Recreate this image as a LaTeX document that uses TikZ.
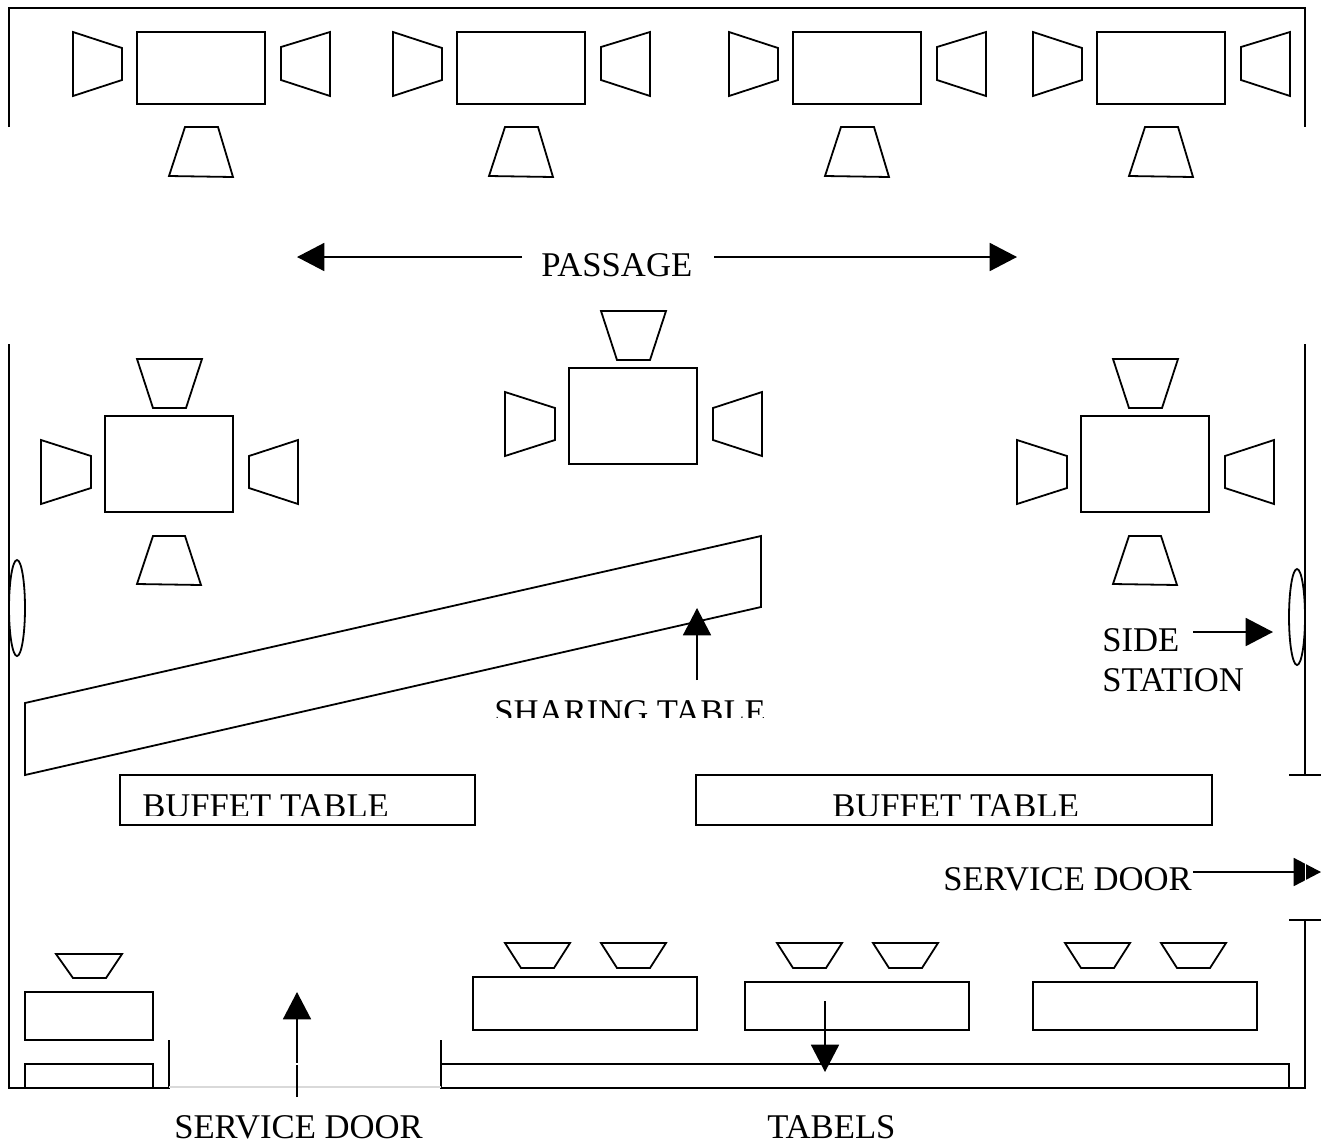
\documentclass[tikz,border=0pt]{standalone}
\usepackage{fontspec}
\setmainfont{Liberation Serif}
\usetikzlibrary{arrows.meta}
\tikzset{
  plan/.style={draw=black,line width=1.35pt,line join=miter},
  wall/.style={draw=black,line width=1.35pt},
  label/.style={inner sep=0pt,anchor=base west,font=\fontsize{26}{26}\selectfont},
  pointer/.style={draw=black,line width=1.35pt,-{Triangle[length=20.5pt,width=21pt,fill=black]}},
  oval/.style={draw=black,line width=1.35pt}
}
\begin{document}
\begin{tikzpicture}[x=0.75pt,y=-0.75pt]
\useasboundingbox (0,0) rectangle (1327,1143);
\fill[white] (0,0) rectangle (1327,1143);
% walls
\draw[wall] (9,127) -- (9,8) -- (1305,8) -- (1305,127);
\draw[wall] (9,344) -- (9,1088) -- (169,1088) -- (169,1040);
\draw[wall] (1305,344) -- (1305,775);
\draw[wall] (1289,775) -- (1321,775);
\draw[wall] (1289,920) -- (1321,920);
\draw[wall] (1305,920) -- (1305,1088) -- (441,1088) -- (441,1040);
\draw[draw=black!15,line width=1pt] (169,1087) -- (441,1087);
% top row
\foreach \dx in {0,320,656,960}{
  \begin{scope}[shift={(\dx,0)}]
    \draw[plan] (137,32) rectangle (265,104);
    \draw[plan] (73,32) -- (122,48) -- (122,80) -- (73,96) -- cycle;
    \draw[plan] (281,47) -- (330,32) -- (330,96) -- (281,80) -- cycle;
    \draw[plan] (185,127) -- (218,127) -- (233,177) -- (169,176) -- cycle;
  \end{scope}
}
% middle tables with four chairs
\foreach \dx in {0,976}{
  \begin{scope}[shift={(\dx,0)}]
    \draw[plan] (105,416) rectangle (233,512);
    \draw[plan] (137,359) -- (202,359) -- (186,408) -- (153,408) -- cycle;
    \draw[plan] (41,440) -- (91,456) -- (91,488) -- (41,504) -- cycle;
    \draw[plan] (249,456) -- (298,440) -- (298,504) -- (249,488) -- cycle;
    \draw[plan] (153,536) -- (185,536) -- (201,585) -- (137,584) -- cycle;
  \end{scope}
}
% centre table
\draw[plan] (569,368) rectangle (697,464);
\draw[plan] (601,311) -- (666,311) -- (650,360) -- (617,360) -- cycle;
\draw[plan] (505,392) -- (555,408) -- (555,440) -- (505,456) -- cycle;
\draw[plan] (713,408) -- (762,392) -- (762,456) -- (713,440) -- cycle;
% sharing table
\draw[plan] (25,703) -- (761,536) -- (761,607) -- (25,775) -- cycle;
% side stations
\draw[oval] (17,608) ellipse [x radius=8,y radius=48];
\draw[oval] (1297,617) ellipse [x radius=8,y radius=48];
% buffet tables
\draw[plan] (120,775) rectangle (475,825);
\draw[plan] (696,775) rectangle (1212,825);
% bottom left
\draw[plan] (25,992) rectangle (153,1040);
\draw[plan] (56,954) -- (122,954) -- (106,978) -- (73,978) -- cycle;
\draw[plan] (25,1088) -- (25,1064) -- (153,1064) -- (153,1088);
% bottom tables
\draw[plan] (473,977) rectangle (697,1030);
\draw[plan] (745,982) rectangle (969,1030);
\draw[plan] (1033,982) rectangle (1257,1030);
\foreach \cx in {505,601,777,873,1065,1161}{
  \draw[plan] (\cx,943) -- ({\cx+65},943) -- ({\cx+49},968) -- ({\cx+16},968) -- cycle;
}
\draw[plan] (441,1064) -- (1289,1064) -- (1289,1088);
% labels
\node[label] (passage) at (541,276) {PASSAGE};
\begin{scope}
  \clip (480,690) rectangle (780,717);
  \node[label] (sharing) at (494,723) {SHARING TABLE};
\end{scope}
\begin{scope}
  \clip (130,785) rectangle (470,815.5);
  \node[label] (buffetA) at (142,817.5) {BUFFET TABLE};
\end{scope}
\begin{scope}
  \clip (700,785) rectangle (1200,815.5);
  \node[label] (buffetB) at (832,817.5) {BUFFET TABLE};
\end{scope}
\node[label] (side) at (1102,651) {SIDE};
\node[label] (station) at (1102,691) {STATION};
\node[label] (doorR) at (943,890) {SERVICE DOOR};
\node[label] (doorB) at (174,1138.5) {SERVICE DOOR};
\node[label] (tabels) at (767,1138.5) {TABELS};
% pointer ends
\coordinate (pL0) at (522,257); \coordinate (pL1) at (297,257);
\coordinate (pR0) at (714,257); \coordinate (pR1) at (1017,257);
\coordinate (sh0) at (697,680); \coordinate (sh1) at (697,608);
\coordinate (st0) at (1193,632); \coordinate (st1) at (1273,632);
\coordinate (dr0) at (1193,872); \coordinate (dr1) at (1321,872);
\coordinate (db0) at (297,1097); \coordinate (db1) at (297,992);
\coordinate (tb0) at (825,1001); \coordinate (tb1) at (825,1072);
\draw[pointer] (pL0) -- (pL1);
\draw[pointer] (pR0) -- (pR1);
\draw[pointer] (sh0) -- (sh1);
\draw[pointer] (st0) -- (st1);
\draw[pointer] (dr0) -- (dr1);
\draw[pointer] (db0) -- (db1);
\draw[pointer] (tb0) -- (tb1);
% door gaps cutting the pointers
\draw[white,line width=1.2pt] (1305.5,855) -- (1305.5,889);
\draw[white,line width=1pt] (292,1064) -- (302,1064);
\end{tikzpicture}
\end{document}
